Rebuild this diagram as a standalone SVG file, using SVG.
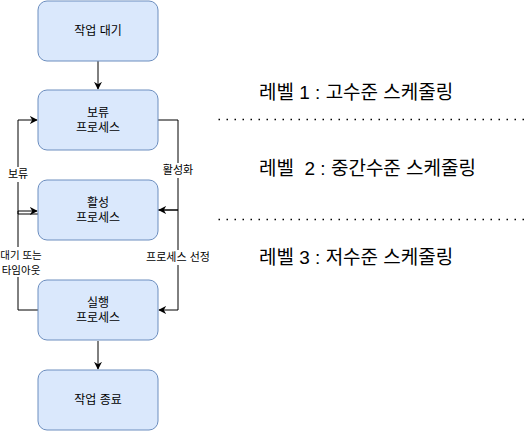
<svg xmlns="http://www.w3.org/2000/svg" width="532" height="432" viewBox="0 0 532 432">
<style>
.box{fill:#dae8fc;stroke:#6c8ebf;stroke-width:1}
.bt{font-family:"Liberation Sans","Noto Sans CJK KR",sans-serif;font-size:12px;fill:#000;text-anchor:middle;dominant-baseline:central}
.lb{font-family:"Liberation Sans","Noto Sans CJK KR",sans-serif;font-size:11px;fill:#000;text-anchor:middle;dominant-baseline:central}
.lv{font-family:"Liberation Sans","Noto Sans CJK KR",sans-serif;font-size:19px;fill:#000;dominant-baseline:central}
.e{fill:none;stroke:#000;stroke-width:1}
.dot{fill:none;stroke:#000;stroke-width:1.5;stroke-dasharray:1.5 6.5}
.lbg{fill:#fff}
</style>
<defs>
<marker id="arr" viewBox="0 0 10 10" refX="9" refY="5" markerWidth="8" markerHeight="8" markerUnits="userSpaceOnUse" orient="auto">
<path d="M0,0 L10,5 L0,10 L3,5 Z" fill="#000"/>
</marker>
</defs>
<g id="connectors">
<path class="e" d="M98,61 V89" marker-end="url(#arr)"/>
<path class="e" d="M98,341 V369" marker-end="url(#arr)"/>
<path class="e" d="M38,214 H18 V120 H37" marker-end="url(#arr)"/>
<path class="e" d="M38,310 H18 V211 H37" marker-end="url(#arr)"/>
<path class="e" d="M158,120 H178 V210 H159" marker-end="url(#arr)"/>
<path class="e" d="M158,210 H178 V310 H159" marker-end="url(#arr)"/>
<rect class="lbg" x="6" y="167" width="24" height="15"/>
<text class="lb" x="18" y="174">보류</text>
<rect class="lbg" x="0" y="247" width="42" height="30"/>
<text class="lb" x="21" y="255" style="font-size:10.5px">대기 또는</text>
<text class="lb" x="21" y="270" style="font-size:10.5px">타임아웃</text>
<rect class="lbg" x="161" y="163" width="34" height="15"/>
<text class="lb" x="178" y="170">활성화</text>
<rect class="lbg" x="146" y="250" width="64" height="15"/>
<text class="lb" x="178" y="257">프로세스 선정</text>
</g>
<g id="n1"><rect class="box" x="38" y="1" width="120" height="60" rx="9"/><text class="bt" x="98" y="31">작업 대기</text></g>
<g id="n2"><rect class="box" x="38" y="90" width="120" height="60" rx="9"/><text class="bt" x="98" y="113">보류</text><text class="bt" x="98" y="128">프로세스</text></g>
<g id="n3"><rect class="box" x="38" y="180" width="120" height="60" rx="9"/><text class="bt" x="98" y="203">활성</text><text class="bt" x="98" y="218">프로세스</text></g>
<g id="n4"><rect class="box" x="38" y="280" width="120" height="60" rx="9"/><text class="bt" x="98" y="303">실행</text><text class="bt" x="98" y="318">프로세스</text></g>
<g id="n5"><rect class="box" x="38" y="370" width="120" height="60" rx="9"/><text class="bt" x="98" y="400">작업 종료</text></g>
<g id="levels">
<text class="lv" x="259" y="92">레벨 1 : 고수준 스케줄링</text>
<line class="dot" x1="218.5" y1="119.5" x2="526" y2="119.5"/>
<text class="lv" x="259" y="168" xml:space="preserve">레벨  2 : 중간수준 스케줄링</text>
<line class="dot" x1="218.5" y1="219.5" x2="526" y2="219.5"/>
<text class="lv" x="259" y="257">레벨 3 : 저수준 스케줄링</text>
</g>
</svg>
